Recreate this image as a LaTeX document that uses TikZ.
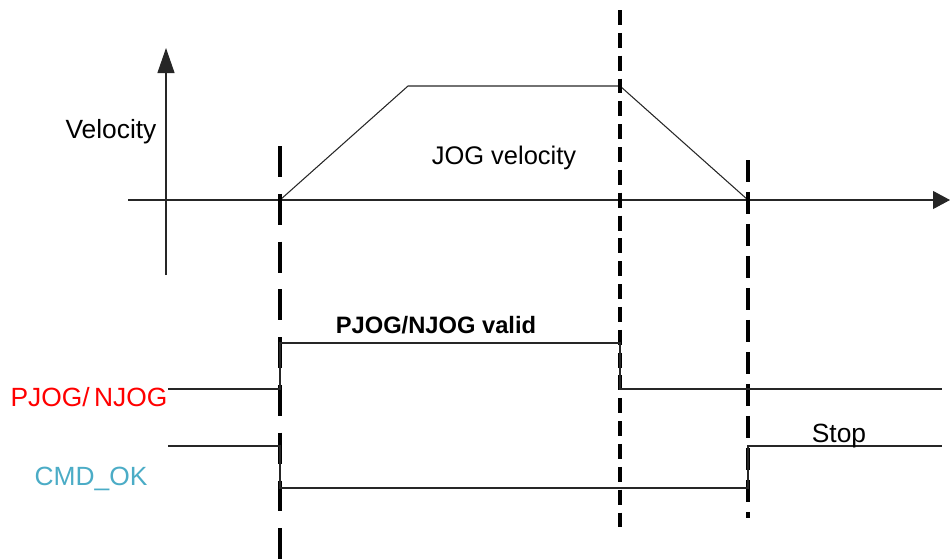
\documentclass[tikz,border=0pt]{standalone}
\usepackage{fontspec}
\setmainfont{Liberation Sans}
\usetikzlibrary{arrows.meta, positioning}
\definecolor{cmdcyan}{RGB}{75,172,198}

\begin{document}
\begin{tikzpicture}[x=0.02cm, y=-0.02cm,
    sig/.style={black!85, line width=0.6pt},
    marker/.style={black, line width=1.9pt},
    lbl/.style={font=\fontsize{15}{18}\selectfont, inner sep=0pt, anchor=base}]
    \useasboundingbox (0,0) rectangle (950,559);

    % Axes
    \coordinate (vbot) at (166,275);
    \coordinate (vtop) at (166,48);
    \coordinate (hleft) at (128,200);
    \coordinate (hright) at (950,200);
    \draw[sig, -{Triangle[length=0.5cm, width=0.34cm]}] (vbot) -- (vtop);
    \draw[sig, -{Triangle[length=0.34cm, width=0.36cm]}] (hleft) -- (hright);
    \node[lbl] (vel) at (111,138) {Velocity};

    % Velocity profile
    \coordinate (t0) at (280,200);
    \coordinate (t1) at (408,86);
    \coordinate (t2) at (620,86);
    \coordinate (t3) at (748,200);
    \draw[sig] (t0) -- (t1) -- (t2) -- (t3);
    \node[lbl, font=\fontsize{14.5}{17}\selectfont] (jogvel) at (504,164) {JOG velocity};

    % Time markers
    \coordinate (m1top) at (280,146);
    \coordinate (m1bot) at (280,559);
    \coordinate (m2top) at (620,10);
    \coordinate (m2bot) at (620,530);
    \coordinate (m3top) at (748,160);
    \coordinate (m3bot) at (748,518);
    \draw[marker, dash pattern=on 17.6pt off 9.6pt] (m1top) -- (m1bot);
    \draw[marker, dash pattern=on 8.5pt off 4.5pt] (m2top) -- (m2bot);
    \draw[marker, dash pattern=on 12.5pt off 5.7pt] (m3top) -- (m3bot);

    % PJOG/NJOG signal
    \coordinate (p0) at (168,389);
    \coordinate (p1) at (280,389);
    \coordinate (p2) at (280,343);
    \coordinate (p3) at (620,343);
    \coordinate (p4) at (620,389);
    \coordinate (p5) at (942,389);
    \draw[sig] (p0) -- (p1) -- (p2) -- (p3) -- (p4) -- (p5);
    \node[lbl, text=red] (pjog) at (89,406) {PJOG/\,NJOG};
    \node[lbl, font=\bfseries\fontsize{13.5}{16}\selectfont] (valid) at (436,333) {PJOG/NJOG valid};

    % CMD_OK signal
    \coordinate (c0) at (168,446);
    \coordinate (c1) at (280,446);
    \coordinate (c2) at (280,488);
    \coordinate (c3) at (748,488);
    \coordinate (c4) at (748,446);
    \coordinate (c5) at (942,446);
    \draw[sig] (c0) -- (c1) -- (c2) -- (c3) -- (c4) -- (c5);
    \node[lbl, text=cmdcyan] (cmdok) at (91,485) {CMD\_OK};
    \node[lbl] (stop) at (839,442) {Stop};
\end{tikzpicture}
\end{document}
